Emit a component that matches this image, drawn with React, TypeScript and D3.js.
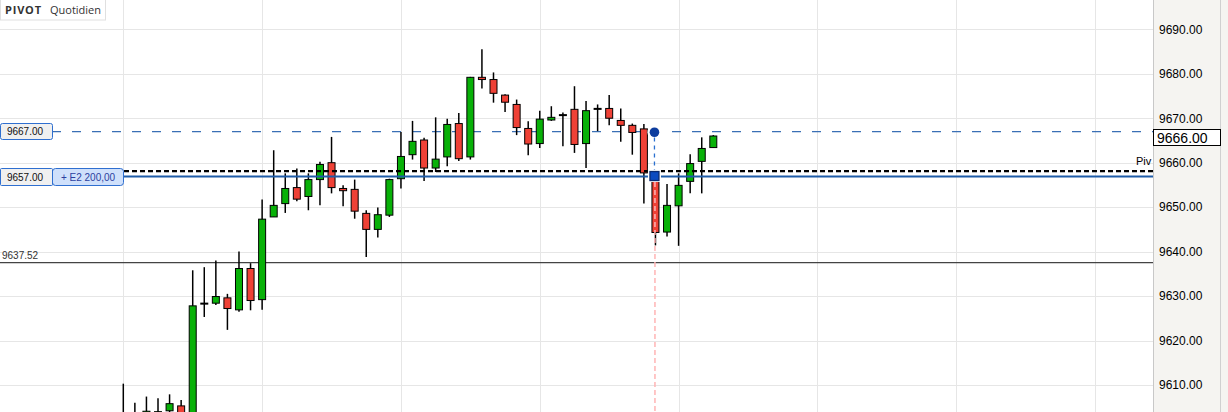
import React from "react";
import * as d3 from "d3";

const opens = [9602, 9601, 9602, 9603, 9604.2, 9605.3, 9600, 9628.3, 9628.4, 9629.6, 9626.9, 9636.2, 9629.2, 9647.8, 9650.8, 9654.4, 9652.4, 9656.2, 9660.0, 9654.2, 9654.0, 9648.6, 9645.0, 9648.2, 9656.4, 9661.8, 9665.1, 9658.8, 9661.3, 9668.8, 9661.3, 9679.2, 9678.7, 9675.2, 9673.1, 9667.7, 9664.3, 9669.6, 9670.7, 9672.0, 9664.3, 9672.1, 9672.2, 9669.5, 9668.4, 9667.6, 9656.8, 9644.4, 9650.3, 9655.8, 9660.3, 9663.4];
const closes = [9600, 9602, 9604.1, 9604.0, 9605.8, 9602, 9627.8, 9628.2, 9629.9, 9627.2, 9636.2, 9629.0, 9647.3, 9650.4, 9654.2, 9651.8, 9656.2, 9659.6, 9654.4, 9653.7, 9649.1, 9645.0, 9648.3, 9656.2, 9661.4, 9664.8, 9658.8, 9660.8, 9668.6, 9660.9, 9679.2, 9678.7, 9675.6, 9673.6, 9667.9, 9664.2, 9669.8, 9670.2, 9670.7, 9664.1, 9671.7, 9672.1, 9670.0, 9668.4, 9666.8, 9657.7, 9644.3, 9650.4, 9654.9, 9659.8, 9663.2, 9666.0];
const highs = [9610.3, 9606, 9607.4, 9607, 9607.9, 9606.6, 9635.8, 9636.5, 9638.0, 9630.5, 9640.0, 9637.4, 9651.7, 9662.8, 9657.6, 9658.7, 9657.6, 9660.2, 9665.8, 9654.9, 9656.2, 9649.3, 9649.9, 9656.4, 9666.9, 9669.4, 9665.6, 9670.2, 9669.9, 9671.2, 9679.3, 9685.5, 9680.3, 9675.4, 9674.2, 9669.3, 9671.7, 9672.7, 9671.3, 9677.2, 9673.9, 9673.1, 9675.2, 9672.2, 9668.8, 9668.7, 9657.0, 9655.2, 9657.6, 9661.9, 9665.7, 9666.2];
const lows = [9598, 9599, 9600, 9601, 9603.5, 9601, 9599, 9625.3, 9628.0, 9622.4, 9626.5, 9626.8, 9626.9, 9647.8, 9648.7, 9651.3, 9649.3, 9650.4, 9653.1, 9650.2, 9647.4, 9638.8, 9643.2, 9647.8, 9654.2, 9660.7, 9655.9, 9657.9, 9659.2, 9660.4, 9660.7, 9676.7, 9673.5, 9671.4, 9666.2, 9661.7, 9663.3, 9669.4, 9663.7, 9662.2, 9658.8, 9667.1, 9668.4, 9664.7, 9661.8, 9650.8, 9641.4, 9643.4, 9641.3, 9653.1, 9653.1, 9663.4];

const priceTicks = [9610, 9620, 9630, 9640, 9650, 9660, 9670, 9680, 9690];
const gridIndices = [0, 12, 24, 36, 48, 60, 72, 84];

const orderPrice = 9667;
const entryPrice = 9657;
const pivotPrice = 9658;
const supportPrice = 9637.52;
const lastPrice = 9666;
const markerIndex = 46;

const W = 1228;
const H = 412;
const AXIS_X = 1153;
const FONT = "'Liberation Sans', Arial, sans-serif";

export default function App() {
  const x = d3.scaleLinear().domain([0, 51]).range([123.3, 713.3]);
  const y = d3.scaleLinear().domain([9610, 9690]).range([385, 29.3]);
  const fmt = d3.format(".2f");
  const green = "#08b108";
  const red = "#ef4136";
  const bw = 7;
  const mx = x(markerIndex) - 1;

  return (
    <svg width={W} height={H} style={{ position: "absolute", left: 0, top: 0, background: "#fff" }} fontFamily={FONT}>
      <rect x={0} y={0} width={W} height={H} fill="#fff" />
      {/* grid */}
      {priceTicks.map((t) => (
        <line key={"h" + t} x1={0} x2={AXIS_X} y1={Math.round(y(t)) + 0.5} y2={Math.round(y(t)) + 0.5} stroke="#e6e6e6" strokeWidth={1} />
      ))}
      {gridIndices.map((i) => (
        <line key={"v" + i} x1={Math.round(x(i)) + 0.5} x2={Math.round(x(i)) + 0.5} y1={0} y2={H} stroke="#e6e6e6" strokeWidth={1} />
      ))}

      {/* support line */}
      <line x1={0} x2={AXIS_X} y1={y(supportPrice)} y2={y(supportPrice)} stroke="#444" strokeWidth={1.2} />
      <text x={2} y={y(supportPrice) - 4} fontSize={10} fill="#333">{fmt(supportPrice)}</text>

      {/* order dashed line */}
      <line x1={52} x2={AXIS_X} y1={y(orderPrice)} y2={y(orderPrice)} stroke="#3a6fb5" strokeWidth={1.3} strokeDasharray="9,11" />

      {/* candles wicks */}
      {highs.map((h, i) => (
        <line key={"w" + i} x1={x(i)} x2={x(i)} y1={y(h)} y2={y(lows[i])} stroke="#000" strokeWidth={1.5} />
      ))}
      {opens.map((o, i) => {
        const c = closes[i];
        const top = y(Math.max(o, c));
        const bot = y(Math.min(o, c));
        if (Math.abs(o - c) < 0.3) {
          return <rect key={"b" + i} x={x(i) - bw / 2 - 0.5} y={top - 1} width={bw + 1} height={2} fill="#000" />;
        }
        return (
          <rect key={"b" + i} x={x(i) - bw / 2} y={top} width={bw} height={Math.max(1, bot - top)} fill={c >= o ? green : red} stroke="#000" strokeWidth={1} />
        );
      })}

      {/* pivot & entry lines */}
      <line x1={124} x2={AXIS_X} y1={y(pivotPrice) - 0.5} y2={y(pivotPrice) - 0.5} stroke="#000" strokeWidth={2.4} strokeDasharray="5,3" />
      <line x1={124} x2={AXIS_X} y1={y(entryPrice) + 0.5} y2={y(entryPrice) + 0.5} stroke="#1f5ca8" strokeWidth={2} />
      <text x={1136} y={y(pivotPrice) - 7} fontSize={11} fill="#000">Piv</text>

      {/* marker */}
      <rect x={mx - 6.5} y={y(entryPrice) - 8} width={13} height={14} fill="#fff" />
      <circle cx={mx} cy={y(orderPrice) + 0.7} r={7} fill="#fff" />
      <line x1={mx + 0.5} x2={mx + 0.5} y1={y(entryPrice) + 6} y2={H} stroke="#ffb4b4" strokeWidth={1.5} strokeDasharray="5,3" />
      <line x1={mx} x2={mx} y1={y(orderPrice) + 6} y2={y(entryPrice) - 6} stroke="#2a70d0" strokeWidth={1.3} strokeDasharray="4,4" />
      <circle cx={mx} cy={y(orderPrice) + 0.7} r={4.8} fill="#0d3d9e" />
      <rect x={mx - 4.5} y={y(entryPrice) - 4.5} width={9} height={9} fill="#0c4ac0" stroke="#0a2a70" strokeWidth={1.3} />

      {/* left labels */}
      <rect x={0.5} y={123.5} width={52} height={16} rx={2} fill="#f0f0f0" stroke="#2f6fd0" />
      <text x={25} y={135} fontSize={10} textAnchor="middle" fill="#111">{fmt(orderPrice)}</text>
      <rect x={52.5} y={168.5} width={71} height={17} rx={3} fill="#cfe0fb" stroke="#2f6fd0" />
      <rect x={0.5} y={168.5} width={52} height={17} rx={1} fill="#f0f0f0" stroke="#2f6fd0" />
      <text x={25} y={180.5} fontSize={10} textAnchor="middle" fill="#111">{fmt(entryPrice)}</text>
      <text x={88} y={180.5} fontSize={10} textAnchor="middle" fill="#2b3fa0">+ E2 200,00</text>

      {/* title box */}
      <rect x={0.5} y={-1} width={105} height={21} fill="#fff" stroke="#e0e0e0" />
      <text x={5} y={14} fontSize={11} fontWeight="bold" fill="#333" fontFamily="'Open Sans', 'DejaVu Sans', sans-serif" letterSpacing={0.8}>PIVOT</text>
      <text x={50} y={14} fontSize={11} fill="#333" fontFamily="'Open Sans', 'DejaVu Sans', sans-serif">Quotidien</text>

      {/* axis panel */}
      <rect x={AXIS_X} y={0} width={W - AXIS_X} height={H} fill="#f5f4f1" />
      <line x1={AXIS_X + 0.5} x2={AXIS_X + 0.5} y1={0} y2={H} stroke="#c8c8c8" />
      <line x1={1220.5} x2={1220.5} y1={0} y2={H} stroke="#d0d0d0" />
      {priceTicks.map((t) => (
        <text key={"t" + t} x={1159} y={y(t) + 4.3} fontSize={12} fill="#000">{fmt(t)}</text>
      ))}
      <rect x={AXIS_X + 0.5} y={129.5} width={67} height={16} fill="#fff" stroke="#000" strokeWidth={1} />
      <text x={1157} y={142.5} fontSize={14} fill="#000">{fmt(lastPrice)}</text>
    </svg>
  );
}
